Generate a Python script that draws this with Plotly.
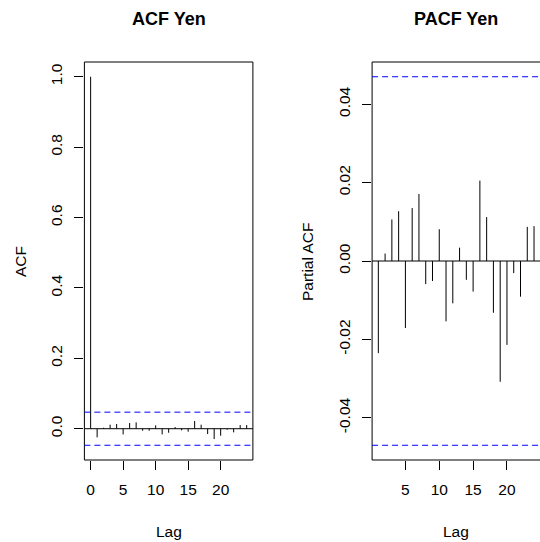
import plotly.graph_objects as go

# ---- data ----
acf_lags = list(range(0, 25))
acf_vals = [1.0, -0.0245, 0.0028, 0.0114, 0.0133, -0.0162, 0.0161, 0.0180, -0.0057,
            -0.0057, 0.0095, -0.0161, -0.0114, 0.0047, -0.0047, -0.0085, 0.0218,
            0.0114, -0.0152, -0.0294, -0.0199, -0.0028, -0.0104, 0.0104, 0.0104]
pacf_lags = list(range(1, 25))
pacf_vals = [-0.0235, 0.0019, 0.0106, 0.0127, -0.0171, 0.0135, 0.0171, -0.0059,
             -0.0051, 0.0081, -0.0154, -0.0108, 0.0034, -0.0048, -0.0078, 0.0205,
             0.0112, -0.0132, -0.0308, -0.0214, -0.0031, -0.0091, 0.0087, 0.0089]
ci = 0.047

acf_xticks = [0, 5, 10, 15, 20]
pacf_xticks = [5, 10, 15, 20]
acf_yticks = [0.0, 0.2, 0.4, 0.6, 0.8, 1.0]
acf_yticktext = ["0.0", "0.2", "0.4", "0.6", "0.8", "1.0"]
pacf_yticks = [-0.04, -0.02, 0.0, 0.02, 0.04]
pacf_yticktext = ["-0.04", "-0.02", "0.00", "0.02", "0.04"]

FONT = "Liberation Sans, Arial, sans-serif"
FS = 15.5
W, H = 540, 542


def spikes(xs, ys):
    xx, yy = [], []
    for x, y in zip(xs, ys):
        xx += [x, x, None]
        yy += [0, y, None]
    return xx, yy


fig = go.Figure()
ax, ay = spikes(acf_lags, acf_vals)
fig.add_trace(go.Scatter(x=ax, y=ay, mode="lines", line=dict(color="black", width=1),
                         xaxis="x", yaxis="y", showlegend=False, hoverinfo="skip"))
px_, py_ = spikes(pacf_lags, pacf_vals)
fig.add_trace(go.Scatter(x=px_, y=py_, mode="lines", line=dict(color="black", width=1),
                         xaxis="x2", yaxis="y2", showlegend=False, hoverinfo="skip"))

ydom = [1 - 460 / H, 1 - 62 / H]
common_axis = dict(showgrid=False, zeroline=False, showline=False, ticks="outside",
                   ticklen=9, tickwidth=1, tickcolor="black",
                   tickfont=dict(family=FONT, size=FS, color="black"))

fig.update_layout(
    width=W, height=H, margin=dict(l=0, r=0, t=0, b=0),
    paper_bgcolor="white", plot_bgcolor="white",
    xaxis=dict(domain=[84.4 / W, 252.9 / W], range=[-0.96, 24.96], anchor="y",
               tickmode="array", tickvals=acf_xticks, ticklabelstandoff=6, **common_axis),
    yaxis=dict(domain=ydom, range=[-0.0889, 1.0419], anchor="x",
               tickmode="array", tickvals=acf_yticks, ticktext=acf_yticktext,
               tickangle=-90, ticklabelstandoff=6, **common_axis),
    xaxis2=dict(domain=[372.1 / W, 1.0], range=[0.08, 24.88], anchor="y2",
                tickmode="array", tickvals=pacf_xticks, ticklabelstandoff=6, **common_axis),
    yaxis2=dict(domain=ydom, range=[-0.05076, 0.05076], anchor="x2",
                tickmode="array", tickvals=pacf_yticks, ticktext=pacf_yticktext,
                tickangle=-90, ticklabelstandoff=6, **common_axis),
)

shapes = []
for xr, yr, x1 in (("x", "y", 1.0), ("x2", "y2", 1.02)):
    shapes.append(dict(type="rect", xref=f"{xr} domain", yref=f"{yr} domain",
                       x0=0, x1=x1, y0=0, y1=1, line=dict(color="black", width=1),
                       fillcolor="rgba(0,0,0,0)", layer="above"))
    shapes.append(dict(type="line", xref=f"{xr} domain", yref=yr, x0=0, x1=x1,
                       y0=0, y1=0, line=dict(color="black", width=1)))
    for v in (ci, -ci):
        shapes.append(dict(type="line", xref=f"{xr} domain", yref=yr, x0=0, x1=x1,
                           y0=v, y1=v, line=dict(color="blue", width=1, dash="6px,4px")))
fig.update_layout(shapes=shapes)

ann = []
def text(t, x, y, size=FS, angle=0):
    ann.append(dict(text=t, x=x / W, y=1 - y / H, xref="paper", yref="paper",
                    xanchor="center", yanchor="middle", showarrow=False, textangle=angle,
                    font=dict(family=FONT, size=size, color="black")))

text("<b>ACF Yen</b>", 168.7, 19, size=18)
text("<b>PACF Yen</b>", 456.3, 19, size=18)
text("Lag", 168.7, 531)
text("Lag", 456.3, 531)
text("ACF", 20, 262, angle=-90)
text("Partial ACF", 307, 262, angle=-90)
fig.update_layout(annotations=ann)

fig.write_html("out.html")
